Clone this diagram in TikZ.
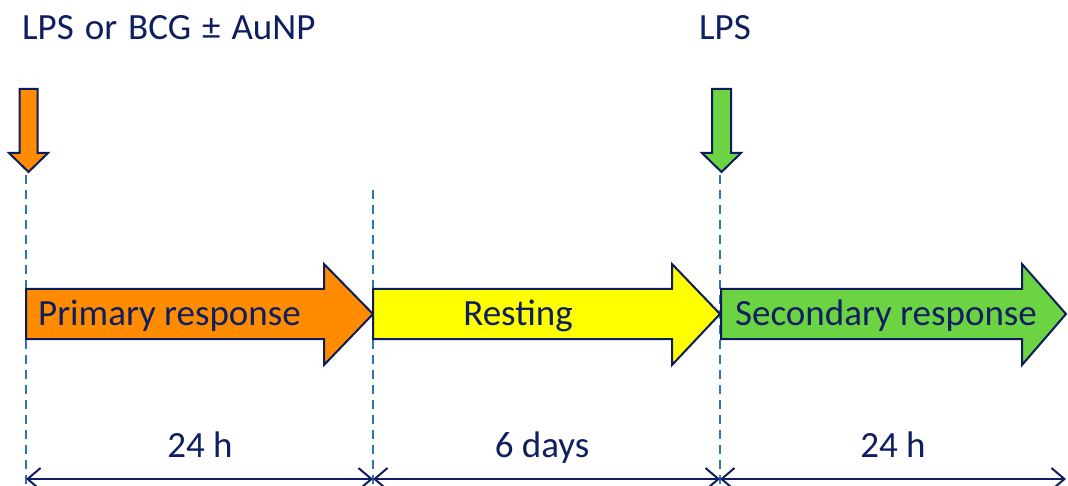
\documentclass[tikz,border=0pt]{standalone}
\usepackage{fontspec}
\setmainfont{Carlito}
\usetikzlibrary{arrows.meta}
\definecolor{navy}{RGB}{14,30,96}
\definecolor{outl}{RGB}{12,28,90}
\definecolor{dashblue}{RGB}{46,117,182}
\definecolor{orangefill}{RGB}{255,140,0}
\definecolor{yellowfill}{RGB}{255,255,0}
\definecolor{greenfill}{RGB}{108,212,66}
\tikzset{
  arrowshape/.style={draw=outl, line width=2pt, line join=miter},
  lbl/.style={text=navy, font=\fontsize{37}{44}\selectfont, inner sep=0pt},
  guide/.style={draw=dashblue, line width=2pt, dash pattern=on 9pt off 6pt},
  span/.style={draw=navy, line width=2pt, {Straight Barb[length=13pt,width=22pt,line width=2pt]}-{Straight Barb[length=13pt,width=22pt,line width=2pt]}}
}
\begin{document}
\begin{tikzpicture}[x=1pt,y=-1pt]
\useasboundingbox (0,0) rectangle (1068,486);
% coordinates
\coordinate (t0) at (26,479);
\coordinate (t1) at (373,479);
\coordinate (t2) at (720,479);
\coordinate (t3) at (1066,479);
\coordinate (g0a) at (26,175); \coordinate (g0b) at (26,486);
\coordinate (g1a) at (373,190); \coordinate (g1b) at (373,486);
\coordinate (g2a) at (720,175); \coordinate (g2b) at (720,486);
% dashed guides
\draw[guide] (g0a) -- (g0b);
\draw[guide] (g1a) -- (g1b);
\draw[guide] (g2a) -- (g2b);
% big arrows
\draw[arrowshape, fill=orangefill] (26,289) -- (324,289) -- (324,264) -- (373,314) -- (324,365) -- (324,339) -- (26,339) -- cycle;
\draw[arrowshape, fill=yellowfill] (373,289) -- (672,289) -- (672,264) -- (720,314) -- (672,365) -- (672,339) -- (373,339) -- cycle;
\draw[arrowshape, fill=greenfill] (721,289) -- (1022,289) -- (1022,264) -- (1066,314) -- (1022,365) -- (1022,339) -- (721,339) -- cycle;
% small down arrows
\draw[arrowshape, fill=orangefill] (19.5,89) -- (37.5,89) -- (37.5,153) -- (48,153) -- (28.5,172) -- (9,153) -- (19.5,153) -- cycle;
\draw[arrowshape, fill=greenfill] (712,89) -- (731,89) -- (731,153) -- (741,153) -- (721.5,172) -- (702,153) -- (712,153) -- cycle;
% labels
\node[lbl, anchor=base west] (top1) at (22,40) {\spaceskip=11pt plus 0pt minus 0pt LPS or BCG ± AuNP};
\node[lbl, anchor=base west] (top2) at (699,40) {LPS};
\node[lbl, anchor=base west] (p1) at (38,326) {Primary response};
\node[lbl, anchor=base] (p2) at (518,326) {Resting};
\node[lbl, anchor=base west] (p3) at (735,326) {Secondary response};
\node[lbl, anchor=base] (d1) at (200,457) {24 h};
\node[lbl, anchor=base] (d2) at (542,457) {6 days};
\node[lbl, anchor=base] (d3) at (893,457) {24 h};
% spans
\draw[span] (t0) -- (t1);
\draw[span] (t1) -- (t2);
\draw[span] (t2) -- (t3);
\end{tikzpicture}
\end{document}
